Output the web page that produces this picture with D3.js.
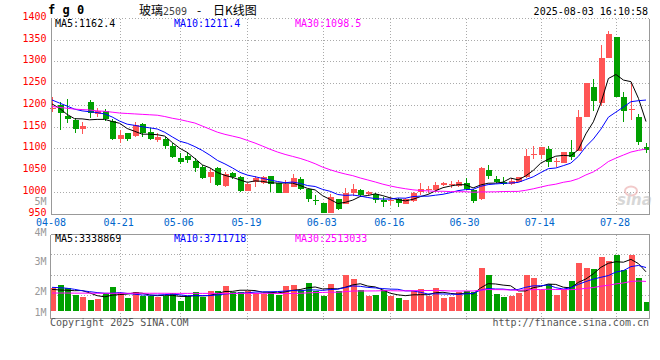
<!doctype html>
<html>
<head>
<meta charset="utf-8">
<title>玻璃2509 日K线图</title>
<script src="https://cdn.jsdelivr.net/npm/d3@7"></script>
<style>
  body { margin: 0; background: #fff; }
  svg { display: block; }
  text { font-family: 'DejaVu Sans Mono', monospace; font-size: 10px; }
</style>
</head>
<body>
<svg id="chart" width="660" height="360"></svg>
<script>
// trading days 2025-04-08 .. 2025-08-01
var dates = [
  '04-08','04-09','04-10','04-11','04-14','04-15','04-16','04-17','04-18','04-21',
  '04-22','04-23','04-24','04-25','04-28','04-29','04-30','05-06','05-07','05-08',
  '05-09','05-12','05-13','05-14','05-15','05-16','05-19','05-20','05-21','05-22',
  '05-23','05-26','05-27','05-28','05-29','05-30','06-03','06-04','06-05','06-06',
  '06-09','06-10','06-11','06-12','06-13','06-16','06-17','06-18','06-19','06-20',
  '06-23','06-24','06-25','06-26','06-27','06-30','07-01','07-02','07-03','07-04',
  '07-07','07-08','07-09','07-10','07-11','07-14','07-15','07-16','07-17','07-18',
  '07-21','07-22','07-23','07-24','07-25','07-28','07-29','07-30','07-31','08-01'
];
var open = [
  1190,1200,1175,1165,1145,1206,1179,1186,1163,1121,
  1135,1129,1156,1138,1118,1121,1105,1078,1083,1071,
  1056,1033,1055,1014,1043,1034,1002,1022,1021,1036,
  1019,998,1010,1029,1006,982,975,952,983,972,
  996,1003,995,995,981,978,983,972,978,999,
  1005,1003,1015,1016,1013,1020,1004,983,1050,1029,
  1022,1018,1023,1033,1084,1085,1098,1069,1066,1091,
  1094,1172,1242,1204,1308,1356,1219,1188,1173,1102
];
var close = [
  1192,1181,1168,1145,1152,1181,1186,1168,1121,1131,
  1121,1154,1135,1121,1125,1105,1080,1069,1073,1055,
  1032,1046,1015,1040,1033,1002,1018,1032,1034,1018,
  998,1018,1031,1007,984,981,951,988,961,997,
  1007,993,999,980,976,981,974,984,998,1007,
  1006,1016,1020,1017,1022,1006,979,1054,1037,1023,
  1018,1025,1034,1082,1086,1102,1069,1070,1091,1081,
  1173,1250,1209,1308,1362,1219,1186,1191,1115,1096
];
var high = [
  1218,1206,1214,1170,1160,1211,1192,1191,1168,1141,
  1136,1161,1157,1146,1136,1125,1111,1090,1092,1077,
  1061,1055,1058,1046,1046,1036,1020,1036,1037,1036,
  1020,1028,1040,1035,1006,992,975,995,983,1008,
  1017,1006,1002,997,987,987,985,986,999,1021,
  1014,1022,1023,1025,1028,1031,1006,1058,1061,1037,
  1033,1032,1035,1098,1106,1102,1106,1077,1091,1119,
  1188,1250,1259,1337,1370,1356,1230,1252,1178,1113
];
var low = [
  1183,1141,1159,1136,1133,1169,1173,1163,1120,1111,
  1117,1126,1127,1118,1115,1098,1077,1063,1067,1045,
  1030,1021,1013,1012,1030,1000,1001,1012,1018,1000,
  996,998,1010,1003,977,969,951,951,958,971,
  990,988,992,973,966,970,966,971,977,992,
  997,1000,1013,1008,1012,1004,975,982,1030,1019,
  1016,1016,1022,1032,1076,1076,1056,1058,1065,1074,
  1094,1171,1185,1198,1307,1219,1160,1166,1107,1088
];
var volume = [
  1930000,2210000,1980000,1350000,1210000,920000,1010000,1490000,2040000,1490000,
  1120000,1580000,1290000,1260000,1210000,1290000,1550000,830000,1260000,1580000,
  1150000,1700000,1700000,2130000,1640000,1640000,1700000,1550000,1410000,1640000,
  1350000,2130000,2210000,1780000,2390000,1700000,1290000,2300000,1720000,3070000,
  2730000,1780000,1290000,1350000,1780000,1290000,1120000,920000,1700000,1870000,
  1260000,1980000,1120000,1210000,1580000,1700000,1580000,3710000,3070000,1440000,
  1210000,1290000,1490000,3070000,2840000,1780000,2270000,1350000,1870000,2560000,
  4140000,3710000,3590000,4660000,4310000,4800000,3510000,4800000,2840000,780000
];
var ma5Head = [1202, 1192, 1178, 1168];
var ma10Head = [1211, 1204, 1197, 1190, 1186, 1184, 1182, 1179, 1172];
var ma30Head = [1196, 1194, 1192, 1190, 1189, 1188, 1186, 1185, 1183, 1181,
                1180, 1179, 1178, 1177, 1176, 1173, 1169, 1166, 1162, 1158,
                1151, 1144, 1137, 1132, 1128, 1124, 1118, 1112, 1105];
var volMa5Head = [1840000, 1780000, 1760000, 1720000];
var volMa10Head = [2010000, 1980000, 1930000, 1840000, 1720000, 1640000, 1560000, 1500000, 1500000];
var volMa30Head = [1520000, 1520000, 1520000, 1510000, 1510000, 1510000, 1500000, 1500000, 1500000, 1500000,
                   1500000, 1500000, 1500000, 1500000, 1500000, 1500000, 1490000, 1490000, 1490000, 1490000,
                   1490000, 1490000, 1490000, 1490000, 1490000, 1490000, 1490000, 1490000, 1490000];

var priceTicks = [950, 1000, 1050, 1100, 1150, 1200, 1250, 1300, 1350, 1400];
var dateTicks = ['04-08','04-21','05-06','05-19','06-03','06-16','06-30','07-14','07-28'];
var volTicks = [5, 4, 3, 2, 1];
var maNames = ['MA5', 'MA10', 'MA30'];
var maLast = ['1162.4', '1211.4', '1098.5'];
var volMaLast = ['3338869', '3711718', '2513033'];
var maColors = ['#000000', '#0000ff', '#ff00ff'];

var RED = '#ff5555', GREEN = '#00a000', GRID = '#aaaaaa', FRAME = '#999999';

var svg = d3.select('#chart');
var L = 50.5, R = 649.5;

var x = d3.scalePoint().domain(dates).range([52, 646]);
var y = d3.scaleLinear().domain([950, 1400]).range([213.5, 17.8]);
var yv = d3.scaleLinear().domain([0, 6.6e6]).range([310.7, 234]);
var yvLabel = d3.scaleLinear().domain([1, 2, 3, 4, 5]).range([314, 292.5, 262.5, 233.5, 202.7]);

function crisp(v) { return Math.round(v) + 0.5; }
function movingAvg(values, n, head) {
  return values.map(function (v, i) {
    return i < n - 1 ? head[i] : d3.mean(values.slice(i - n + 1, i + 1));
  });
}
function colorAt(i) { return close[i] >= open[i] ? RED : GREEN; }

// ---------- grid ----------
var grid = svg.append('g').attr('stroke', GRID).attr('stroke-dasharray', '1,2')
  .attr('shape-rendering', 'crispEdges');
grid.selectAll('.hg').data(priceTicks.slice(1)).join('line')
  .attr('x1', L).attr('x2', R)
  .attr('y1', function (d) { return crisp(y(d)); })
  .attr('y2', function (d) { return crisp(y(d)); });
grid.selectAll('.vg').data(dateTicks.slice(1)).join('line')
  .attr('x1', function (d) { return crisp(x(d)); })
  .attr('x2', function (d) { return crisp(x(d)); })
  .attr('y1', crisp(y(1400))).attr('y2', crisp(y(950)));
// volume grid
var volGridY = [254.5, 275.5, 295.5];
grid.append('g').selectAll('line').data(volGridY).join('line')
  .attr('x1', L).attr('x2', R).attr('y1', function (d) { return d; }).attr('y2', function (d) { return d; });
grid.append('g').selectAll('line').data(dateTicks.slice(1)).join('line')
  .attr('x1', function (d) { return crisp(x(d)); })
  .attr('x2', function (d) { return crisp(x(d)); })
  .attr('y1', 234.5).attr('y2', 322);

// ---------- candles ----------
var cg = svg.append('g').attr('shape-rendering', 'crispEdges');
var candle = cg.selectAll('g').data(dates).join('g');
candle.append('line')
  .attr('x1', function (d) { return Math.round(x(d)) + 0.5; })
  .attr('x2', function (d) { return Math.round(x(d)) + 0.5; })
  .attr('y1', function (d, i) { return y(high[i]); })
  .attr('y2', function (d, i) { return y(low[i]); })
  .attr('stroke', function (d, i) { return colorAt(i); });
candle.append('rect')
  .attr('x', function (d) { return Math.round(x(d)) - 2; })
  .attr('width', 6)
  .attr('y', function (d, i) { return y(Math.max(open[i], close[i])); })
  .attr('height', function (d, i) { return Math.max(1, Math.abs(y(open[i]) - y(close[i]))); })
  .attr('fill', function (d, i) { return colorAt(i); });

// ---------- price moving averages ----------
var priceMA = [movingAvg(close, 5, ma5Head), movingAvg(close, 10, ma10Head), movingAvg(close, 30, ma30Head)];
var line = d3.line().x(function (d, i) { return x(dates[i]); }).y(function (d) { return y(d); });
svg.append('g').selectAll('path').data(priceMA).join('path')
  .attr('d', line).attr('fill', 'none')
  .attr('stroke', function (d, i) { return maColors[i]; })
  .attr('stroke-width', 1);

// ---------- volume ----------
svg.append('g').attr('shape-rendering', 'crispEdges')
  .selectAll('rect').data(volume).join('rect')
  .attr('x', function (d, i) { return Math.round(x(dates[i])) - 2; })
  .attr('width', 6)
  .attr('y', function (d) { return yv(d); })
  .attr('height', function (d) { return yv(0) - yv(d); })
  .attr('fill', function (d, i) { return colorAt(i); });

var volMA = [movingAvg(volume, 5, volMa5Head), movingAvg(volume, 10, volMa10Head), movingAvg(volume, 30, volMa30Head)];
var vline = d3.line().x(function (d, i) { return x(dates[i]); }).y(function (d) { return yv(d); });
svg.append('g').selectAll('path').data(volMA).join('path')
  .attr('d', vline).attr('fill', 'none')
  .attr('stroke', function (d, i) { return maColors[i]; })
  .attr('stroke-width', 1);

// ---------- frames ----------
var fr = svg.append('g').attr('stroke', FRAME).attr('fill', 'none').attr('shape-rendering', 'crispEdges');
fr.append('path').attr('d', 'M' + R + ',' + crisp(y(1400)) + 'V' + crisp(y(950)) + 'H' + L);
fr.append('path').attr('d', 'M' + L + ',234.5H' + R + 'V318.5H' + L + 'V234.5');

// ---------- axes ----------
var yAxis = svg.append('g').attr('transform', 'translate(' + L + ',0)')
  .call(d3.axisLeft(y).tickValues(priceTicks).tickSize(0).tickPadding(4).tickFormat(d3.format('d')));
yAxis.select('.domain').attr('stroke', FRAME).attr('shape-rendering', 'crispEdges');
yAxis.selectAll('text').attr('fill', '#ff0000').attr('dy', '0.16em')
  .style('font-family', "'DejaVu Sans Mono', monospace").style('font-size', '10px');

var vAxis = svg.append('g').attr('transform', 'translate(' + L + ',0)')
  .call(d3.axisLeft(yvLabel).tickValues(volTicks).tickSize(0).tickPadding(4)
    .tickFormat(function (d) { return d + 'M'; }));
vAxis.select('.domain').remove();
vAxis.selectAll('text').attr('fill', '#999999').attr('dy', '0.16em')
  .style('font-family', "'DejaVu Sans Mono', monospace").style('font-size', '10px');

var xAxis = svg.append('g').attr('transform', 'translate(-1.5,' + crisp(y(950)) + ')')
  .call(d3.axisBottom(x).tickValues(dateTicks).tickSize(0).tickPadding(4));
xAxis.select('.domain').remove();
xAxis.selectAll('text').attr('fill', '#0066cc')
  .style('font-family', "'DejaVu Sans Mono', monospace").style('font-size', '10px');

// ---------- legends ----------
var legendX = [55, 174, 295];
svg.append('g').selectAll('text').data(maNames).join('text')
  .attr('x', function (d, i) { return legendX[i]; }).attr('y', 27)
  .attr('fill', function (d, i) { return maColors[i]; })
  .text(function (d, i) { return d + ':' + maLast[i]; });
svg.append('g').selectAll('text').data(maNames).join('text')
  .attr('x', function (d, i) { return legendX[i]; }).attr('y', 242)
  .attr('fill', function (d, i) { return maColors[i]; })
  .text(function (d, i) { return d + ':' + volMaLast[i]; });

// ---------- titles ----------
svg.append('text').attr('x', 48).attr('y', 14)
  .style('font-size', '12px').style('font-weight', 'bold').text('f g 0');
var title = svg.append('text').attr('y', 15)
  .style('font-family', "'Noto Sans CJK SC', sans-serif").style('font-size', '12px');
title.append('tspan').attr('x', 139).text('玻璃');
title.append('tspan').attr('x', 163).style('font-family', "'DejaVu Sans Mono', monospace")
  .style('font-size', '10px').attr('fill', '#444').text('2509');
title.append('tspan').attr('x', 197).text('-');
title.append('tspan').attr('x', 213).text('日K线图');
svg.append('text').attr('x', 648).attr('y', 15).attr('text-anchor', 'end').text('2025-08-03 16:10:58');

svg.append('text').attr('x', 50).attr('y', 326).attr('fill', '#555').text('Copyright 2025 SINA.COM');
svg.append('text').attr('x', 649).attr('y', 326).attr('fill', '#555').attr('text-anchor', 'end')
  .text('http://finance.sina.com.cn');

// sina watermark
var wm = svg.append('g').attr('opacity', 0.55);
wm.append('ellipse').attr('cx', 631).attr('cy', 191).attr('rx', 6).attr('ry', 4.5)
  .attr('fill', 'none').attr('stroke', '#e8a0a0').attr('stroke-width', 2);
wm.append('text').attr('x', 617).attr('y', 205)
  .style('font-family', "'DejaVu Sans', sans-serif").style('font-size', '15px')
  .style('font-weight', 'bold').style('font-style', 'italic').attr('fill', '#b8b8b8').text('sina');
</script>
</body>
</html>
